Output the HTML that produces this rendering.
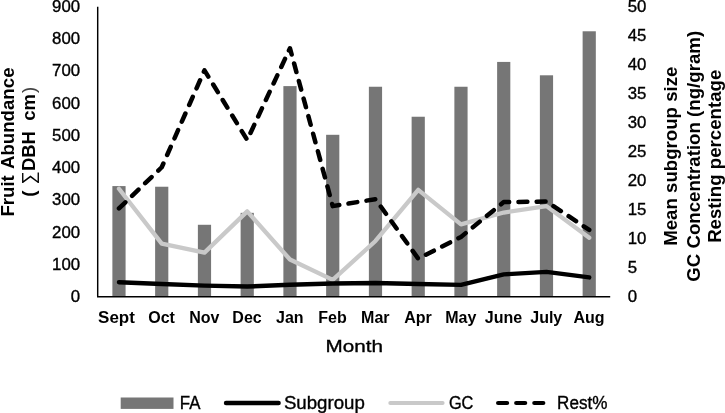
<!DOCTYPE html>
<html lang="en"><head><meta charset="utf-8"><title>Chart</title>
<style>html,body{margin:0;padding:0;background:#fff;}body{width:725px;height:413px;overflow:hidden;}svg{display:block;}text{font-family:"Liberation Sans",Arial,sans-serif;fill:#000;}.b{font-weight:bold;}.c{stroke:#000;stroke-width:.35px;}</style></head><body>
<svg width="725" height="413" viewBox="0 0 725 413">
<rect width="725" height="413" fill="#fff"/>
<g fill="#767676">
<rect x="112.38" y="186.08" width="13.2" height="110.62"/>
<rect x="155.12" y="186.73" width="13.2" height="109.97"/>
<rect x="197.88" y="224.78" width="13.2" height="71.92"/>
<rect x="240.62" y="212.85" width="13.2" height="83.85"/>
<rect x="283.38" y="86.11" width="13.2" height="210.59"/>
<rect x="326.12" y="134.80" width="13.2" height="161.90"/>
<rect x="368.88" y="86.75" width="13.2" height="209.95"/>
<rect x="411.62" y="116.74" width="13.2" height="179.96"/>
<rect x="454.38" y="86.75" width="13.2" height="209.95"/>
<rect x="497.12" y="61.92" width="13.2" height="234.78"/>
<rect x="539.88" y="75.30" width="13.2" height="221.40"/>
<rect x="582.62" y="31.28" width="13.2" height="265.42"/>
</g>
<polyline points="118.97,188.73 161.72,243.58 204.47,252.58 247.22,211.37 289.98,259.55 332.73,279.87 375.48,240.97 418.23,189.89 460.98,224.43 503.73,212.53 546.48,206.14 589.23,237.78" fill="none" stroke="#c9c9c9" stroke-width="4.3" stroke-linecap="round" stroke-linejoin="round"/>
<polyline points="118.97,282.19 161.72,283.93 204.47,285.67 247.22,286.54 289.98,284.80 332.73,283.52 375.48,283.00 418.23,283.99 460.98,284.92 503.73,274.41 546.48,271.91 589.23,277.43" fill="none" stroke="#000" stroke-width="4.4" stroke-linecap="round" stroke-linejoin="round"/>
<polyline points="118.97,208.46 161.72,167.25 204.47,70.31 247.22,139.97 289.98,48.25 332.73,206.14 375.48,199.18 418.23,258.62 460.98,236.91 503.73,202.08 546.48,201.50 589.23,229.94" fill="none" stroke="#000" stroke-width="4.5" stroke-linecap="round" stroke-linejoin="round" stroke-dasharray="8.9 9.3"/>
<path d="M97.70 6.8V296.80H610.2" fill="none" stroke="#000" stroke-width="1.45"/>
<text class="c" x="70.75" y="302.20" font-size="16.6" textLength="9.35" lengthAdjust="spacingAndGlyphs">0</text>
<text class="c" x="52.05" y="269.95" font-size="16.6" textLength="28.05" lengthAdjust="spacingAndGlyphs">100</text>
<text class="c" x="52.05" y="237.70" font-size="16.6" textLength="28.05" lengthAdjust="spacingAndGlyphs">200</text>
<text class="c" x="52.05" y="205.45" font-size="16.6" textLength="28.05" lengthAdjust="spacingAndGlyphs">300</text>
<text class="c" x="52.05" y="173.20" font-size="16.6" textLength="28.05" lengthAdjust="spacingAndGlyphs">400</text>
<text class="c" x="52.05" y="140.95" font-size="16.6" textLength="28.05" lengthAdjust="spacingAndGlyphs">500</text>
<text class="c" x="52.05" y="108.70" font-size="16.6" textLength="28.05" lengthAdjust="spacingAndGlyphs">600</text>
<text class="c" x="52.05" y="76.45" font-size="16.6" textLength="28.05" lengthAdjust="spacingAndGlyphs">700</text>
<text class="c" x="52.05" y="44.20" font-size="16.6" textLength="28.05" lengthAdjust="spacingAndGlyphs">800</text>
<text class="c" x="52.05" y="12.45" font-size="16.6" textLength="28.05" lengthAdjust="spacingAndGlyphs">900</text>
<text class="c" x="627.7" y="302.20" font-size="16.6" textLength="9.35" lengthAdjust="spacingAndGlyphs">0</text>
<text class="c" x="627.7" y="273.18" font-size="16.6" textLength="9.35" lengthAdjust="spacingAndGlyphs">5</text>
<text class="c" x="627.7" y="244.15" font-size="16.6" textLength="18.70" lengthAdjust="spacingAndGlyphs">10</text>
<text class="c" x="627.7" y="215.12" font-size="16.6" textLength="18.70" lengthAdjust="spacingAndGlyphs">15</text>
<text class="c" x="627.7" y="186.10" font-size="16.6" textLength="18.70" lengthAdjust="spacingAndGlyphs">20</text>
<text class="c" x="627.7" y="157.07" font-size="16.6" textLength="18.70" lengthAdjust="spacingAndGlyphs">25</text>
<text class="c" x="627.7" y="128.05" font-size="16.6" textLength="18.70" lengthAdjust="spacingAndGlyphs">30</text>
<text class="c" x="627.7" y="99.03" font-size="16.6" textLength="18.70" lengthAdjust="spacingAndGlyphs">35</text>
<text class="c" x="627.7" y="70.00" font-size="16.6" textLength="18.70" lengthAdjust="spacingAndGlyphs">40</text>
<text class="c" x="627.7" y="40.98" font-size="16.6" textLength="18.70" lengthAdjust="spacingAndGlyphs">45</text>
<text class="c" x="627.7" y="12.45" font-size="16.6" textLength="18.70" lengthAdjust="spacingAndGlyphs">50</text>
<text class="b" x="98.1" y="323" font-size="16" textLength="36.8" lengthAdjust="spacingAndGlyphs">Sept</text>
<text class="b" x="161.53" y="323" font-size="16" text-anchor="middle">Oct</text>
<text class="b" x="204.28" y="323" font-size="16" text-anchor="middle">Nov</text>
<text class="b" x="247.03" y="323" font-size="16" text-anchor="middle">Dec</text>
<text class="b" x="289.78" y="323" font-size="16" text-anchor="middle">Jan</text>
<text class="b" x="332.53" y="323" font-size="16" text-anchor="middle">Feb</text>
<text class="b" x="375.28" y="323" font-size="16" text-anchor="middle">Mar</text>
<text class="b" x="418.03" y="323" font-size="16" text-anchor="middle">Apr</text>
<text class="b" x="460.78" y="323" font-size="16" text-anchor="middle">May</text>
<text class="b" x="503.53" y="323" font-size="16" text-anchor="middle">June</text>
<text class="b" x="546.27" y="323" font-size="16" text-anchor="middle">July</text>
<text class="b" x="589.02" y="323" font-size="16" text-anchor="middle">Aug</text>
<text class="c" x="325.5" y="352.4" font-size="17.1" textLength="57.4" lengthAdjust="spacingAndGlyphs">Month</text>
<text class="b" transform="translate(13.9 0) rotate(-90)" font-size="18.65"><tspan x="-216.6">Fruit</tspan> <tspan x="-67.5" text-anchor="end">Abundance</tspan></text>
<text class="b" transform="translate(34.9 200) rotate(-90)" font-size="18.5" xml:space="preserve" style="white-space:pre"><tspan x="3.2">(</tspan><tspan x="15.6" font-weight="normal">∑</tspan><tspan x="28.9">DBH  cm</tspan><tspan x="107" font-weight="normal" fill="#444">)</tspan></text>
<text class="b" transform="translate(677.4 156.2) rotate(-90)" font-size="18.67" text-anchor="middle">Mean subgroup size</text>
<text class="b" transform="translate(699.5 156.3) rotate(-90)" font-size="18.67" text-anchor="middle">GC Concentration (ng/gram)</text>
<text class="b" transform="translate(721.2 156.3) rotate(-90)" font-size="18.67" text-anchor="middle">Resting percentage</text>
<rect x="120.7" y="397.5" width="52.8" height="11.4" fill="#767676"/>
<text class="c" x="179.8" y="408.5" font-size="17.6" textLength="20.6" lengthAdjust="spacingAndGlyphs">FA</text>
<line x1="226" y1="403" x2="278.6" y2="403" stroke="#000" stroke-width="4.4" stroke-linecap="round"/>
<text class="c" x="283.9" y="408.5" font-size="17.6" textLength="81" lengthAdjust="spacingAndGlyphs">Subgroup</text>
<line x1="390.3" y1="403" x2="442.6" y2="403" stroke="#c9c9c9" stroke-width="4" stroke-linecap="round"/>
<text class="c" x="448.9" y="408.5" font-size="17.6" textLength="24.5" lengthAdjust="spacingAndGlyphs">GC</text>
<line x1="498.1" y1="403" x2="550" y2="403" stroke="#000" stroke-width="4.2" stroke-linecap="round" stroke-dasharray="9 9.1"/>
<text class="c" x="557.1" y="408.5" font-size="17.6" textLength="50.3" lengthAdjust="spacingAndGlyphs">Rest%</text>
</svg></body></html>
